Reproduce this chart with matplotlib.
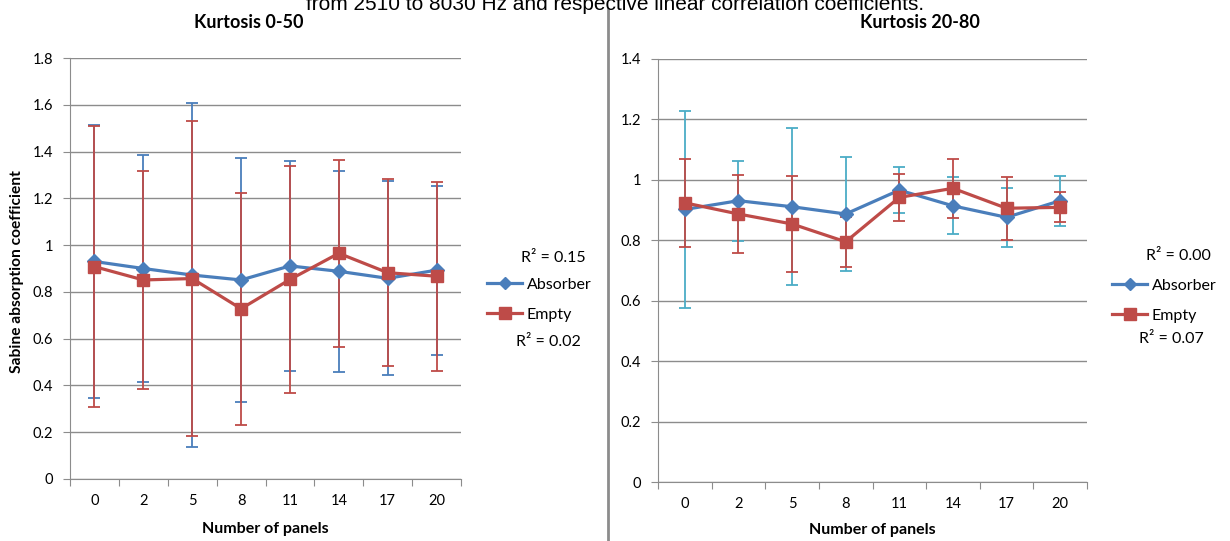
import matplotlib
matplotlib.use("Agg")
import matplotlib.pyplot as plt
from matplotlib.lines import Line2D

# data
panels = ["0", "2", "5", "8", "11", "14", "17", "20"]

# Kurtosis 0-50
abs_050 = [0.93, 0.90, 0.872, 0.851, 0.911, 0.888, 0.858, 0.893]
abs_050_err = [0.585, 0.486, 0.734, 0.52, 0.449, 0.43, 0.415, 0.361]
emp_050 = [0.908, 0.851, 0.857, 0.728, 0.853, 0.965, 0.882, 0.867]
emp_050_err = [0.60, 0.467, 0.672, 0.495, 0.487, 0.40, 0.40, 0.404]

# Kurtosis 20-80
abs_2080 = [0.902, 0.931, 0.911, 0.887, 0.966, 0.914, 0.876, 0.931]
abs_2080_err = [0.327, 0.133, 0.26, 0.19, 0.076, 0.094, 0.098, 0.083]
emp_2080 = [0.924, 0.887, 0.854, 0.795, 0.942, 0.972, 0.906, 0.909]
emp_2080_err = [0.146, 0.129, 0.16, 0.083, 0.078, 0.097, 0.104, 0.05]

r2_050 = ["0.15", "0.02"]
r2_2080 = ["0.00", "0.07"]

blue = "#4A7EBB"
red = "#BE4B48"
cyan = "#4BACC6"
grid = "#8C8C8C"
font = "Lato"

W, H = 1230, 541
fig = plt.figure(figsize=(W / 100, H / 100), dpi=100)


def px(x, y):
    return x / W, 1 - y / H


def draw(ax, a, a_err, e, e_err, ymax, abs_ecol):
    x = list(range(len(panels)))
    ax.errorbar(x, a, yerr=a_err, fmt="none", ecolor=abs_ecol, elinewidth=1.3,
                capsize=4, capthick=1.3, zorder=3)
    ax.errorbar(x, e, yerr=e_err, fmt="none", ecolor=red, elinewidth=1.3,
                capsize=4, capthick=1.3, zorder=4)
    ax.plot(x, a, color=blue, lw=2.3, marker="D", ms=7, zorder=5)
    ax.plot(x, e, color=red, lw=2.3, marker="s", ms=9, zorder=6)
    ax.set_xlim(-0.5, len(panels) - 0.5)
    ax.set_ylim(0, ymax)
    n = int(round(ymax / 0.2)) + 1
    ax.set_yticks([i * 0.2 for i in range(n)])
    ax.set_yticklabels(["0" if i == 0 else ("1" if i == 5 else "%g" % (i * 0.2))
                        for i in range(n)])
    ax.yaxis.grid(True, color=grid, lw=1)
    ax.set_axisbelow(True)
    ax.set_xticks([i - 0.5 for i in range(len(panels) + 1)])
    ax.set_xticklabels([])
    ax.set_xticks(x, minor=True)
    ax.set_xticklabels(panels, minor=True)
    ax.tick_params(axis="x", which="major", direction="out", length=5, color=grid)
    ax.tick_params(axis="x", which="minor", length=0, pad=11, labelsize=10.5)
    ax.tick_params(axis="y", direction="out", length=5, color=grid, pad=7, labelsize=10.5)
    for lab in ax.get_xticklabels(minor=True) + ax.get_yticklabels():
        lab.set_family(font)
    for s in ["top", "right"]:
        ax.spines[s].set_visible(False)
    for s in ["left", "bottom"]:
        ax.spines[s].set_color(grid)


l, b = px(70, 479)
ax1 = fig.add_axes([l, b, 391 / W, 421 / H])
draw(ax1, abs_050, abs_050_err, emp_050, emp_050_err, 1.8, blue)

l, b = px(658, 482)
ax2 = fig.add_axes([l, b, 429 / W, 423 / H])
draw(ax2, abs_2080, abs_2080_err, emp_2080, emp_2080_err, 1.4, cyan)

# titles and labels (top line is cut by the image edge, as in the source)
fig.text(*px(615, 10), "from 2510 to 8030 Hz and respective linear correlation coefficients.",
         ha="center", va="baseline", fontsize=15, family="Liberation Sans")
fig.text(*px(249, 22), "Kurtosis 0-50", ha="center", va="center", fontsize=13,
         weight="bold", family=font)
fig.text(*px(920, 22), "Kurtosis 20-80", ha="center", va="center", fontsize=13,
         weight="bold", family=font)
fig.text(*px(265, 529), "Number of panels", ha="center", va="center", fontsize=11.5,
         weight="bold", family=font)
fig.text(*px(872, 530), "Number of panels", ha="center", va="center", fontsize=11.5,
         weight="bold", family=font)
fig.text(*px(17, 272), "Sabine absorption coefficient", ha="center", va="center",
         rotation=90, fontsize=11.2, weight="bold", family=font)

# separator
fig.add_artist(Line2D([608 / W, 608 / W], [0, 1 - 9 / H], color="#8C8C8C", lw=2))

# legends
handles = [Line2D([], [], color=blue, lw=2.3, marker="D", ms=6),
           Line2D([], [], color=red, lw=2.3, marker="s", ms=8)]
for lx, ly in [(487, 299.5), (1112, 300.5)]:
    fig.legend(handles, ["Absorber", "Empty"], loc="center left",
               bbox_to_anchor=px(lx, ly), frameon=False,
               handlelength=2.2, handletextpad=0.3, labelspacing=1.0,
               borderpad=0, borderaxespad=0, prop={"family": font, "size": 11.5})

for (x, y), t in zip([(553, 258), (548, 342)], r2_050):
    fig.text(*px(x, y), "R² = " + t, ha="center", va="center", fontsize=11.5, family=font)
for (x, y), t in zip([(1178, 256), (1171, 339)], r2_2080):
    fig.text(*px(x, y), "R² = " + t, ha="center", va="center", fontsize=11.5, family=font)

fig.savefig("out.png", dpi=100)
